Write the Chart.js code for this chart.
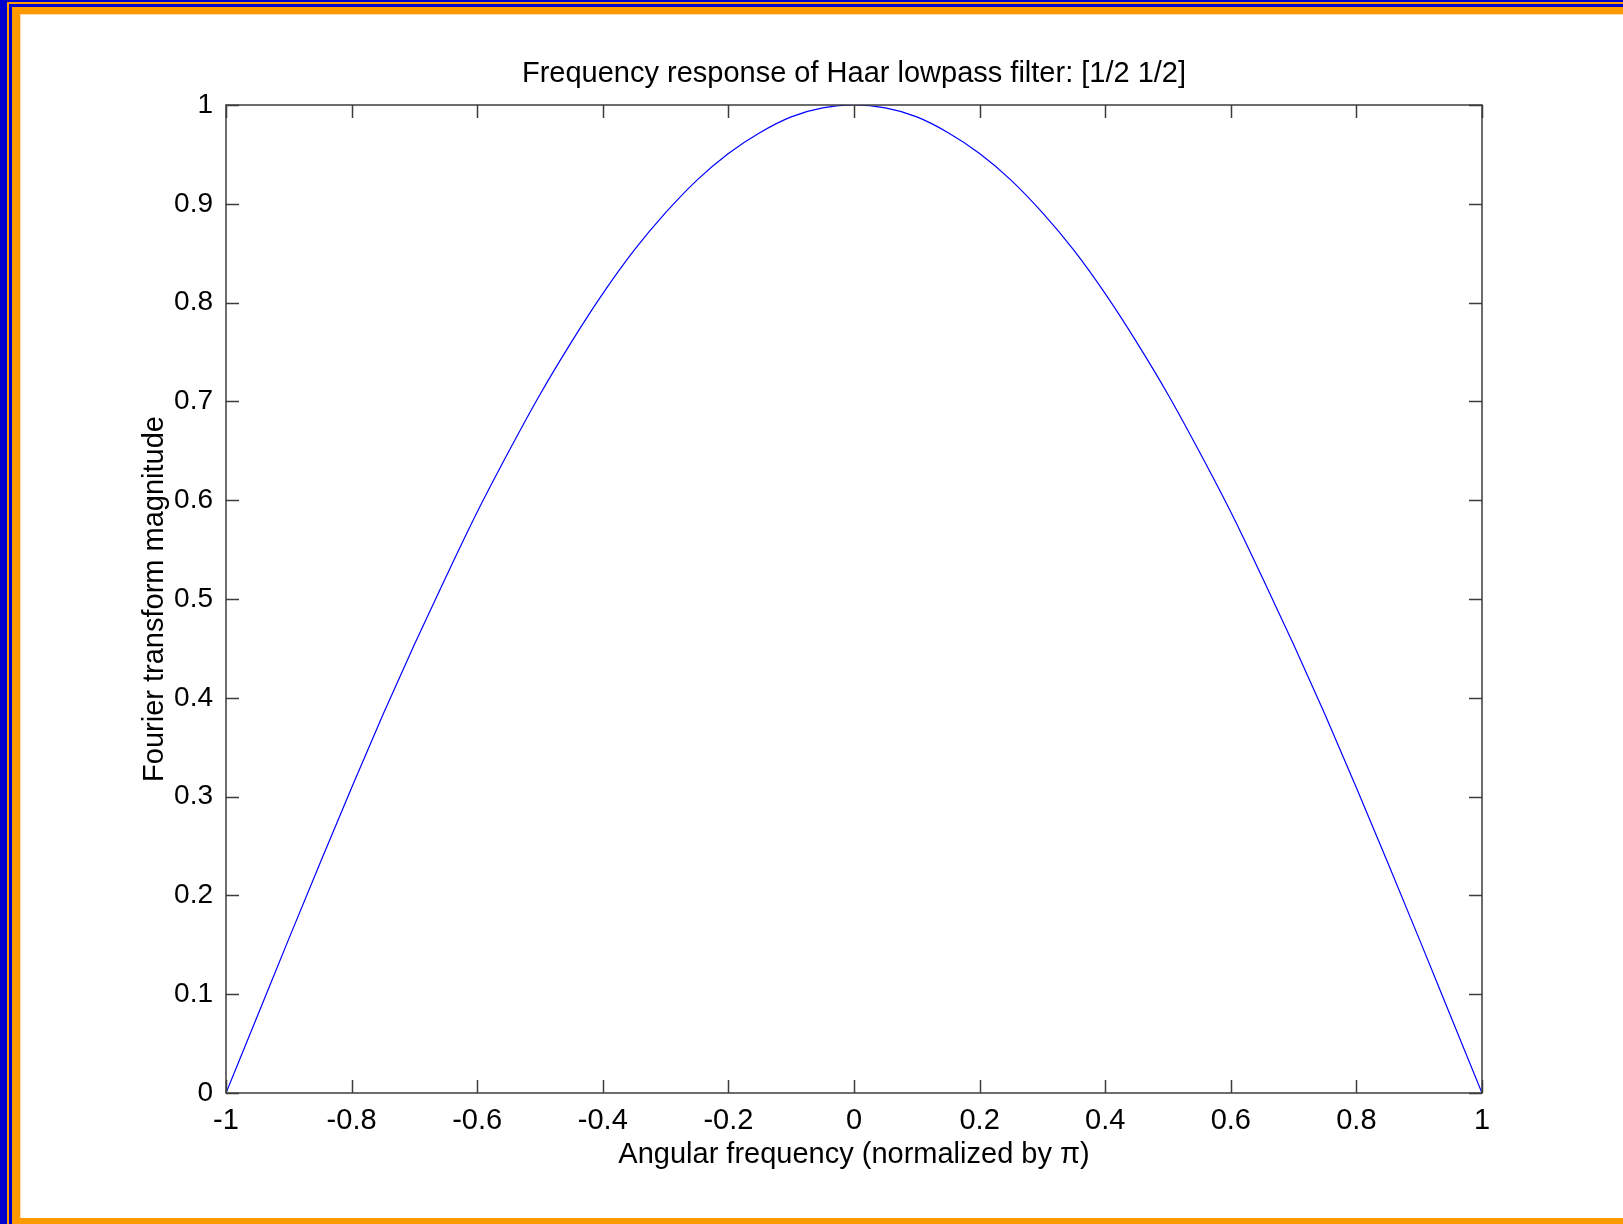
<!DOCTYPE html>
<html>
<head>
<meta charset="utf-8">
<title>Frequency response of Haar lowpass filter</title>
<script src="https://cdn.jsdelivr.net/npm/chart.js"></script>
<style>
  html, body { margin: 0; padding: 0; background: #fff; overflow: hidden; }
  .band { position: absolute; right: 0; }
  #b1 { left: 0;    top: 0;    bottom: 0; background: #0000cc; }
  #b2 { left: 7px;  top: 2px;  bottom: 0; background: #ff9900; }
  #b3 { left: 9px;  top: 4px;  bottom: 0; background: #0000cc; }
  #b4 { left: 12px; top: 7px;  bottom: 0; background: #ff9900; }
  #b5 { left: 20px; top: 14px; bottom: 6px; background: #fff;
        border-top: 1px solid #ffdca8; border-left: 1px solid #ffdca8; }
  #wrap { position: absolute; left: 0; top: 0; width: 1623px; height: 1224px; }
</style>
</head>
<body>
<div class="band" id="b1"></div>
<div class="band" id="b2"></div>
<div class="band" id="b3"></div>
<div class="band" id="b4"></div>
<div class="band" id="b5"></div>
<div id="wrap"><canvas id="plot"></canvas></div>
<script>
// normalized angular frequency (x pi) and |H(w)| of the [1/2 1/2] filter
const freq = [-1, -0.95, -0.9, -0.85, -0.8, -0.75, -0.7, -0.65, -0.6, -0.55, -0.5,
  -0.45, -0.4, -0.35, -0.3, -0.25, -0.2, -0.15, -0.1, -0.05, 0,
  0.05, 0.1, 0.15, 0.2, 0.25, 0.3, 0.35, 0.4, 0.45, 0.5,
  0.55, 0.6, 0.65, 0.7, 0.75, 0.8, 0.85, 0.9, 0.95, 1];
const magnitude = [0, 0.078, 0.156, 0.233, 0.309, 0.383, 0.454, 0.522, 0.588, 0.649, 0.707,
  0.760, 0.809, 0.853, 0.891, 0.924, 0.951, 0.972, 0.988, 0.997, 1,
  0.997, 0.988, 0.972, 0.951, 0.924, 0.891, 0.853, 0.809, 0.760, 0.707,
  0.649, 0.588, 0.522, 0.454, 0.383, 0.309, 0.233, 0.156, 0.078, 0];

const xTickValues = [-1, -0.8, -0.6, -0.4, -0.2, 0, 0.2, 0.4, 0.6, 0.8, 1];
const xTickLabels = ['-1', '-0.8', '-0.6', '-0.4', '-0.2', '0', '0.2', '0.4', '0.6', '0.8', '1'];
const yTickValues = [0, 0.1, 0.2, 0.3, 0.4, 0.5, 0.6, 0.7, 0.8, 0.9, 1];
const yTickLabels = ['0', '0.1', '0.2', '0.3', '0.4', '0.5', '0.6', '0.7', '0.8', '0.9', '1'];

const FONT = 'Liberation Sans, Arial, Helvetica, sans-serif';
const AXIS_COLOR = '#3c3c3c';
const TICK_LEN = 13;

Chart.defaults.font.family = FONT;
Chart.defaults.color = '#000';

// axes box with inward tick marks on all four sides
const boxTicks = {
  id: 'boxTicks',
  afterDatasetsDraw(chart) {
    const { ctx, chartArea: a, scales: { x, y } } = chart;
    ctx.save();
    ctx.strokeStyle = AXIS_COLOR;
    ctx.lineWidth = 1.5;
    ctx.beginPath();
    x.ticks.forEach(t => {
      const px = Math.round(x.getPixelForValue(t.value)) + 0.5;
      ctx.moveTo(px, a.bottom); ctx.lineTo(px, a.bottom - TICK_LEN);
      ctx.moveTo(px, a.top); ctx.lineTo(px, a.top + TICK_LEN);
    });
    y.ticks.forEach(t => {
      const py = Math.round(y.getPixelForValue(t.value)) + 0.5;
      ctx.moveTo(a.left, py); ctx.lineTo(a.left + TICK_LEN, py);
      ctx.moveTo(a.right, py); ctx.lineTo(a.right - TICK_LEN, py);
    });
    ctx.stroke();
    ctx.strokeRect(a.left, a.top, a.right - a.left, a.bottom - a.top);
    ctx.restore();
  }
};

function pickTicks(values) {
  return function(scale) {
    scale.ticks = values.map(v => ({ value: v }));
  };
}

new Chart(document.getElementById('plot'), {
  type: 'line',
  data: {
    datasets: [{
      data: freq.map((f, i) => ({ x: f, y: magnitude[i] })),
      borderColor: '#0000ff',
      borderWidth: 1.2,
      pointRadius: 0,
      cubicInterpolationMode: 'monotone',
      fill: false
    }]
  },
  options: {
    responsive: true,
    maintainAspectRatio: false,
    animation: false,
    layout: { padding: { left: 130, top: 30, right: 141, bottom: 51 } },
    plugins: {
      legend: { display: false },
      tooltip: { enabled: false },
      title: {
        display: true,
        text: 'Frequency response of Haar lowpass filter: [1/2 1/2]',
        fullSize: false,
        color: '#000',
        font: { size: 29, weight: 'normal' },
        padding: { top: 27, bottom: 13.2 }
      }
    },
    scales: {
      x: {
        type: 'linear',
        min: -1,
        max: 1,
        afterBuildTicks: pickTicks(xTickValues),
        afterFit(scale) { scale.height = 80; },
        grid: { display: false, drawTicks: false },
        border: { display: false },
        ticks: {
          padding: 11,
          maxRotation: 0,
          font: { size: 29 },
          callback: (v, i) => xTickLabels[i]
        },
        title: {
          display: true,
          text: 'Angular frequency (normalized by \u03c0)',
          font: { size: 29 },
          padding: { top: 0, bottom: 1 }
        }
      },
      y: {
        min: 0,
        max: 1,
        afterBuildTicks: pickTicks(yTickValues),
        afterFit(scale) { scale.width = 96; },
        grid: { display: false, drawTicks: false },
        border: { display: false },
        ticks: {
          padding: 13,
          font: { size: 28 },
          callback: (v, i) => yTickLabels[i]
        },
        title: {
          display: true,
          text: 'Fourier transform magnitude',
          font: { size: 29 },
          padding: { top: 8, bottom: 0 }
        }
      }
    }
  },
  plugins: [boxTicks]
});
</script>
</body>
</html>
